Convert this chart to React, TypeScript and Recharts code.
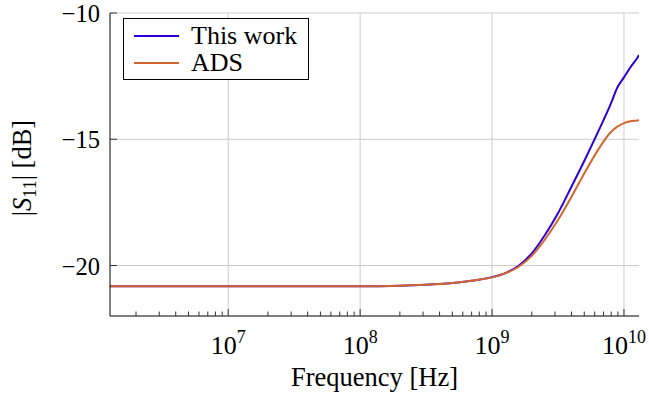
import React from 'react';
import {
    LineChart,
    Line,
    XAxis,
    YAxis,
    CartesianGrid,
    Label,
} from 'recharts';

// frequencies in Hz
const freq = [
    1.27e6, 1e7, 1e8, 2e8, 3.16e8, 3.98e8, 5.01e8, 6.31e8, 7.94e8, 1e9, 1.26e9, 1.58e9,
    2e9, 2.51e9, 3.16e9, 3.98e9, 5.01e9, 6.31e9, 7.94e9, 8.91e9, 1e10, 1.12e10, 1.26e10, 1.3e10,
];
const thisWork = [
    -20.82, -20.82, -20.82, -20.8, -20.76, -20.73, -20.69, -20.63, -20.56, -20.46, -20.3, -20.02,
    -19.52, -18.8, -17.93, -16.9, -15.85, -14.75, -13.6, -12.95, -12.55, -12.15, -11.78, -11.66,
];
const ads = [
    -20.82, -20.82, -20.82, -20.8, -20.76, -20.73, -20.69, -20.63, -20.56, -20.47, -20.31, -20.06,
    -19.62, -18.98, -18.2, -17.3, -16.35, -15.45, -14.72, -14.5, -14.36, -14.29, -14.26, -14.25,
];

const seriesNames = ['This work', 'ADS'];
const seriesColors = ['#2d00d6', '#d2662e'];

const majorTicks = [1e7, 1e8, 1e9, 1e10];
const minorTicks = [
    2e6, 3e6, 4e6, 5e6, 6e6, 7e6, 8e6, 9e6,
    2e7, 3e7, 4e7, 5e7, 6e7, 7e7, 8e7, 9e7,
    2e8, 3e8, 4e8, 5e8, 6e8, 7e8, 8e8, 9e8,
    2e9, 3e9, 4e9, 5e9, 6e9, 7e9, 8e9, 9e9,
];
const yTicks = [-20, -15, -10];

const data = freq.map((f, i) => ({ f, thisWork: thisWork[i], ads: ads[i] }));
const xTicks = [...minorTicks, ...majorTicks].sort((a, b) => a - b);

const FONT = "'Liberation Serif', 'DejaVu Serif', serif";
const TICK = '#333';

const BottomTick = (props: any) => {
    const { x, y, payload } = props;
    const v = payload.value;
    const major = majorTicks.includes(v);
    const exp = Math.round(Math.log10(v));
    return (
        <g>
            <line x1={x} x2={x} y1={y} y2={y - (major ? 7 : 4.5)} stroke={TICK} />
            {major && (
                <text x={x} y={y + 38} textAnchor="middle" fontFamily={FONT} fontSize={26} fill="#000">
                    10
                    <tspan dy={-11} fontSize={18}>{exp}</tspan>
                </text>
            )}
        </g>
    );
};

const TopTick = (props: any) => {
    const { x, y, payload } = props;
    const major = majorTicks.includes(payload.value);
    return <line x1={x} x2={x} y1={y} y2={y + (major ? 7 : 4.5)} stroke={TICK} />;
};

const LeftTick = (props: any) => {
    const { x, y, payload } = props;
    return (
        <g>
            <line x1={x} x2={x + 7} y1={y} y2={y} stroke={TICK} />
            <text x={x - 10} y={y + 9} textAnchor="end" fontFamily={FONT} fontSize={24.5} fill="#000">
                {'\u2212' + Math.abs(payload.value)}
            </text>
        </g>
    );
};

const RightTick = (props: any) => {
    const { x, y } = props;
    return <line x1={x} x2={x - 7} y1={y} y2={y} stroke={TICK} />;
};

export default function App() {
    return (
        <div style={{ position: 'absolute', left: 0, top: 0, width: 649, height: 393, background: '#fff' }}>
            <LineChart
                width={649}
                height={393}
                data={data}
                margin={{ top: 13, right: 10, left: 0, bottom: 0 }}
            >
                <CartesianGrid stroke="#cdcdcd" verticalValues={majorTicks} horizontalValues={yTicks} />
                <XAxis
                    dataKey="f"
                    type="number"
                    scale="log"
                    domain={[1.27e6, 1.3e10]}
                    allowDataOverflow
                    ticks={xTicks}
                    interval={0}
                    height={77}
                    tickSize={0}
                    tickMargin={0}
                    tickLine={false}
                    tick={<BottomTick />}
                    axisLine={{ stroke: '#000' }}
                >
                    <Label
                        content={(p: any) => {
                            const vb = p.viewBox;
                            return (
                                <text x={vb.x + vb.width / 2} y={vb.y + 70} textAnchor="middle" fontFamily={FONT} fontSize={26.5} fill="#000">
                                    Frequency [Hz]
                                </text>
                            );
                        }}
                    />
                </XAxis>
                <XAxis
                    xAxisId="top"
                    orientation="top"
                    dataKey="f"
                    type="number"
                    scale="log"
                    domain={[1.27e6, 1.3e10]}
                    allowDataOverflow
                    ticks={xTicks}
                    interval={0}
                    height={0}
                    tickSize={0}
                    tickMargin={0}
                    tickLine={false}
                    tick={<TopTick />}
                    axisLine={{ stroke: '#000' }}
                />
                <YAxis
                    type="number"
                    domain={[-22, -10]}
                    allowDataOverflow
                    ticks={yTicks}
                    interval={0}
                    width={110}
                    tickSize={0}
                    tickMargin={0}
                    tickLine={false}
                    tick={<LeftTick />}
                    axisLine={{ stroke: '#000' }}
                >
                    <Label
                        content={() => (
                            <text
                                x={31}
                                y={168}
                                transform="rotate(-90, 31, 168)"
                                textAnchor="middle"
                                fontFamily={FONT}
                                fontSize={26.5}
                                fill="#000"
                            >
                                |<tspan fontStyle="italic">S</tspan>
                                <tspan dy={5} fontSize={18}>11</tspan>
                                <tspan dy={-5}>| [dB]</tspan>
                            </text>
                        )}
                    />
                </YAxis>
                <YAxis
                    yAxisId="r"
                    orientation="right"
                    type="number"
                    domain={[-22, -10]}
                    allowDataOverflow
                    ticks={yTicks}
                    interval={0}
                    width={0}
                    tickSize={0}
                    tickMargin={0}
                    tickLine={false}
                    tick={<RightTick />}
                    axisLine={{ stroke: '#000' }}
                />
                <Line
                    type="monotone"
                    dataKey="thisWork"
                    name={seriesNames[0]}
                    stroke={seriesColors[0]}
                    strokeWidth={2}
                    dot={false}
                    isAnimationActive={false}
                />
                <Line
                    type="monotone"
                    dataKey="ads"
                    name={seriesNames[1]}
                    stroke={seriesColors[1]}
                    strokeWidth={2}
                    dot={false}
                    isAnimationActive={false}
                />
            </LineChart>
            <div
                style={{
                    position: 'absolute',
                    left: 123,
                    top: 18,
                    width: 186,
                    height: 62,
                    boxSizing: 'border-box',
                    border: '1px solid #000',
                    background: '#fff',
                    fontFamily: FONT,
                    fontSize: 26,
                    lineHeight: '27px',
                    paddingTop: 3,
                }}
            >
                {seriesNames.map((name, i) => (
                    <div key={name} style={{ display: 'flex', alignItems: 'center', height: 27 }}>
                        <span
                            style={{
                                display: 'inline-block',
                                width: 45,
                                height: 2,
                                marginLeft: 10,
                                marginRight: 12,
                                background: seriesColors[i],
                            }}
                        />
                        <span>{name}</span>
                    </div>
                ))}
            </div>
        </div>
    );
}
